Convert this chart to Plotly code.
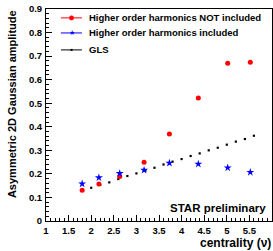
import plotly.graph_objects as go

# ---- data ----
cent_pts = [1.8, 2.17, 2.63, 3.17, 3.73, 4.37, 5.02, 5.52]
amp_not_included = [0.131, 0.157, 0.189, 0.249, 0.369, 0.522, 0.670, 0.674]
amp_included = [0.158, 0.184, 0.202, 0.216, 0.246, 0.242, 0.226, 0.207]

gls_x = [2.0, 2.2, 2.4, 2.6, 2.8, 3.0, 3.2, 3.4, 3.6, 3.8, 4.0, 4.2, 4.4, 4.6, 4.8, 5.0, 5.2, 5.4, 5.6]
gls_y = [0.141, 0.153, 0.164, 0.178, 0.191, 0.202, 0.214, 0.226, 0.240, 0.252, 0.263, 0.276,
         0.287, 0.300, 0.311, 0.324, 0.337, 0.348, 0.362]

x_ticks = [1, 1.5, 2, 2.5, 3, 3.5, 4, 4.5, 5, 5.5, 6]
y_ticks = [0, 0.1, 0.2, 0.3, 0.4, 0.5, 0.6, 0.7, 0.8, 0.9]

names = ["Higher order harmonics NOT included", "Higher order harmonics included", "GLS"]
colors = ["#ff0000", "#0000ff", "black"]

FONT = "Liberation Sans, Arial, Helvetica, sans-serif"

fig = go.Figure()

# data traces
fig.add_trace(go.Scatter(x=gls_x, y=gls_y, mode="markers", showlegend=False, name=names[2],
                         marker=dict(color="black", size=2.2, symbol="square")))
fig.add_trace(go.Scatter(x=cent_pts, y=amp_not_included, mode="markers", showlegend=False,
                         name=names[0], marker=dict(color="#ff0000", size=5, symbol="circle")))
fig.add_trace(go.Scatter(x=cent_pts, y=amp_included, mode="markers", showlegend=False,
                         name=names[1], marker=dict(color="#0000ff", size=6, symbol="star")))

axis_common = dict(
    showgrid=False, zeroline=False, showline=True, linecolor="black", linewidth=1,
    mirror=True, ticks="inside", tickcolor="black", ticklen=6, tickwidth=1,
    automargin=False,
    tickfont=dict(family=FONT, size=9.5, color="black", weight="bold"),
)

fig.update_xaxes(range=[1, 6], tickvals=x_ticks, ticktext=[str(v) for v in x_ticks],
                 minor=dict(dtick=0.1, ticks="inside", ticklen=3, tickcolor="black"),
                 ticklabelstandoff=1, **axis_common)
fig.update_yaxes(range=[0, 0.9], tickvals=y_ticks, ticktext=[("%g" % v) for v in y_ticks],
                 minor=dict(dtick=0.02, ticks="inside", ticklen=3, tickcolor="black"),
                 ticklabelstandoff=1, **axis_common)

# ---- manual legend (ROOT TLegend style) ----
leg_rows_y = [0.958, 0.887, 0.807]
shapes = []
annotations = []
for i, (nm, col) in enumerate(zip(names, colors)):
    yy = leg_rows_y[i]
    shapes.append(dict(type="line", xref="paper", yref="paper", x0=0.066, x1=0.159,
                       y0=yy, y1=yy, line=dict(color=col, width=1)))
    annotations.append(dict(text=nm, xref="paper", yref="paper", x=0.181, y=yy,
                            xanchor="left", yanchor="middle", showarrow=False,
                            font=dict(family=FONT, size=9.5, color="black", weight="bold")))
# legend markers
shapes.append(dict(type="circle", xref="paper", yref="paper", xsizemode="pixel", ysizemode="pixel",
                   xanchor=0.113, yanchor=leg_rows_y[0], x0=-2.2, x1=2.2, y0=-2.2, y1=2.2,
                   fillcolor="#ff0000", line=dict(color="#ff0000", width=0.5)))
annotations.append(dict(text="★", xref="paper", yref="paper", x=0.113, y=leg_rows_y[1],
                        xanchor="center", yanchor="middle", showarrow=False,
                        font=dict(family="DejaVu Sans", size=7, color="#0000ff")))
shapes.append(dict(type="rect", xref="paper", yref="paper", xsizemode="pixel", ysizemode="pixel",
                   xanchor=0.113, yanchor=leg_rows_y[2], x0=-1, x1=1, y0=-1, y1=1,
                   fillcolor="black", line=dict(width=0)))

annotations += [
    dict(text="Asymmetric 2D Gaussian amplitude", xref="paper", yref="paper",
         x=-0.150, y=0.552, xanchor="center", yanchor="middle", textangle=-90,
         showarrow=False, font=dict(family=FONT, size=11, color="black", weight="bold")),
    dict(text="centrality (ν)", xref="paper", yref="paper",
         x=1.004, y=-0.105, xanchor="right", yanchor="middle",
         showarrow=False, font=dict(family=FONT, size=12, color="black", weight="bold")),
    dict(text="STAR preliminary", xref="paper", yref="paper",
         x=0.981, y=0.062, xanchor="right", yanchor="middle",
         showarrow=False, font=dict(family=FONT, size=11.5, color="black", weight="bold")),
]

fig.update_layout(
    width=273, height=251,
    margin=dict(l=46, r=1, t=9, b=30),
    paper_bgcolor="white", plot_bgcolor="white",
    showlegend=False,
    shapes=shapes,
    annotations=annotations,
)

fig.write_html("out.html", config={"displayModeBar": False},
               post_script="document.body.style.margin='0px';document.body.style.overflow='hidden';")
